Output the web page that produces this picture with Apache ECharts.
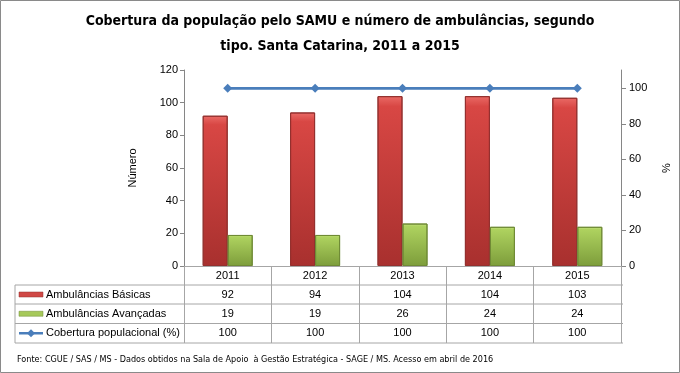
<!DOCTYPE html>
<html><head><meta charset="utf-8">
<script src="https://cdn.jsdelivr.net/npm/echarts@6/dist/echarts.min.js"></script>
<style>html,body{margin:0;padding:0;background:#fff}#c{width:680px;height:373px}</style>
</head><body><div id="c"></div>
<script>
const years = ['2011', '2012', '2013', '2014', '2015'];
const basicas = [92, 94, 104, 104, 103];
const avancadas = [19, 19, 26, 24, 24];
const cobertura = [100, 100, 100, 100, 100];
const seriesNames = ['Ambulâncias Básicas', 'Ambulâncias Avançadas', 'Cobertura populacional (%)'];
const leftTicks = [0, 20, 40, 60, 80, 100, 120];
const rightTicks = [0, 20, 40, 60, 80, 100];
const titleText = 'Cobertura da população pelo SAMU e número de ambulâncias, segundo\ntipo. Santa Catarina, 2011 a 2015';
const sourceText = 'Fonte: CGUE / SAS / MS - Dados obtidos na Sala de Apoio  à Gestão Estratégica - SAGE / MS. Acesso em abril de 2016';

const NARROW = "'DejaVu Sans Condensed','Liberation Sans',sans-serif";
const SANS = "'Liberation Sans',Arial,sans-serif";
const GRID = {left: 184, right: 57, top: 70, bottom: 107};
const lineColor = '#a6a6a6';

function vgrad(c1, c2, c3) {
  return new echarts.graphic.LinearGradient(0, 0, 0, 1, [
    {offset: 0, color: c1}, {offset: 0.06, color: c2}, {offset: 1, color: c3}
  ]);
}

const chart = echarts.init(document.getElementById('c'), null, {renderer: 'canvas'});
chart.setOption({
  animation: false,
  backgroundColor: '#fff',
  title: {
    text: titleText, left: 'center', top: 4,
    textStyle: {fontFamily: NARROW, fontWeight: 'bold', fontSize: 14, color: '#000', lineHeight: 25}
  },
  grid: GRID,
  xAxis: {
    type: 'category', data: years,
    axisLine: {lineStyle: {color: lineColor}},
    axisTick: {show: true, length: 77, lineStyle: {color: lineColor}},
    axisLabel: {margin: 4, fontFamily: SANS, fontSize: 11, color: '#000'}
  },
  yAxis: [{
    type: 'value', min: 0, max: 120, interval: 20,
    name: 'Número', nameLocation: 'middle', nameGap: 46, nameRotate: 90,
    nameTextStyle: {fontFamily: SANS, fontSize: 11, color: '#000'},
    axisLine: {show: true, lineStyle: {color: '#868686'}},
    axisTick: {show: true, length: 4, lineStyle: {color: '#868686'}},
    axisLabel: {margin: 6, fontFamily: SANS, fontSize: 11, color: '#000', customValues: leftTicks},
    splitLine: {show: false}
  }, {
    type: 'value', min: 0, max: 110.3, interval: 20,
    name: '%', nameLocation: 'middle', nameGap: 40, nameRotate: 90,
    nameTextStyle: {fontFamily: SANS, fontSize: 11, color: '#000'},
    axisLine: {show: true, lineStyle: {color: '#868686'}},
    axisTick: {show: true, length: 5, lineStyle: {color: '#868686'}, customValues: rightTicks},
    axisLabel: {margin: 8, fontFamily: SANS, fontSize: 11, color: '#000', customValues: rightTicks},
    splitLine: {show: false}
  }],
  series: [{
    name: seriesNames[0], type: 'bar', data: basicas, barWidth: 25, barGap: '0%',
    itemStyle: {color: vgrad('#ea6a66', '#d84744', '#a8302e'), borderColor: '#93302e', borderWidth: 1}
  }, {
    name: seriesNames[1], type: 'bar', data: avancadas, barWidth: 25,
    itemStyle: {color: vgrad('#cfe88a', '#aed25f', '#7d9d3b'), borderColor: '#6f8a35', borderWidth: 1}
  }, {
    name: seriesNames[2], type: 'line', yAxisIndex: 1, data: cobertura,
    symbol: 'diamond', symbolSize: 9,
    lineStyle: {color: '#4a7ebb', width: 2.75},
    itemStyle: {color: '#4a7ebb'}
  }]
});

// Data table below the plot
const xs = years.map((y) => chart.convertToPixel({xAxisIndex: 0}, y));
const rowsY = [266, 285, 304, 323.5, 343];
const tLeft = 15, tRight = 680 - GRID.right;
const g = [];
g.push({type: 'rect', shape: {x: 0.5, y: 0.5, width: 679, height: 372}, style: {fill: null, stroke: '#8a8a8a', lineWidth: 1}, silent: true});
for (let i = 1; i < rowsY.length; i++) {
  g.push({type: 'line', shape: {x1: tLeft, y1: rowsY[i], x2: tRight, y2: rowsY[i]}, style: {stroke: lineColor, lineWidth: 1}});
}
g.push({type: 'line', shape: {x1: tLeft, y1: rowsY[1], x2: tLeft, y2: rowsY[4]}, style: {stroke: lineColor, lineWidth: 1}});
const tableData = [basicas, avancadas, cobertura];
tableData.forEach((arr, r) => {
  const cy = (rowsY[r + 1] + rowsY[r + 2]) / 2;
  arr.forEach((v, i) => {
    g.push({type: 'text', x: xs[i], y: cy, style: {text: String(v), fontFamily: SANS, fontSize: 11, fill: '#000', align: 'center', verticalAlign: 'middle'}});
  });
  g.push({type: 'text', x: 46, y: cy, style: {text: seriesNames[r], fontFamily: SANS, fontSize: 11, fill: '#000', align: 'left', verticalAlign: 'middle'}});
});
// legend keys
const k1 = (rowsY[1] + rowsY[2]) / 2, k2 = (rowsY[2] + rowsY[3]) / 2, k3 = (rowsY[3] + rowsY[4]) / 2;
g.push({type: 'rect', shape: {x: 19, y: k1 - 2.5, width: 24, height: 5}, style: {fill: '#d04845', stroke: '#93302e', lineWidth: 0.5}});
g.push({type: 'rect', shape: {x: 19, y: k2 - 2.5, width: 24, height: 5}, style: {fill: '#a6c95a', stroke: '#6f8a35', lineWidth: 0.5}});
g.push({type: 'line', shape: {x1: 19, y1: k3, x2: 43, y2: k3}, style: {stroke: '#4a7ebb', lineWidth: 2.5}});
g.push({type: 'polygon', shape: {points: [[31, k3 - 4], [35, k3], [31, k3 + 4], [27, k3]]}, style: {fill: '#4a7ebb'}});
g.push({type: 'text', x: 17, y: 360, style: {text: sourceText, fontFamily: NARROW, fontSize: 9, fill: '#000', align: 'left', verticalAlign: 'middle'}});
chart.setOption({graphic: g});
</script></body></html>
